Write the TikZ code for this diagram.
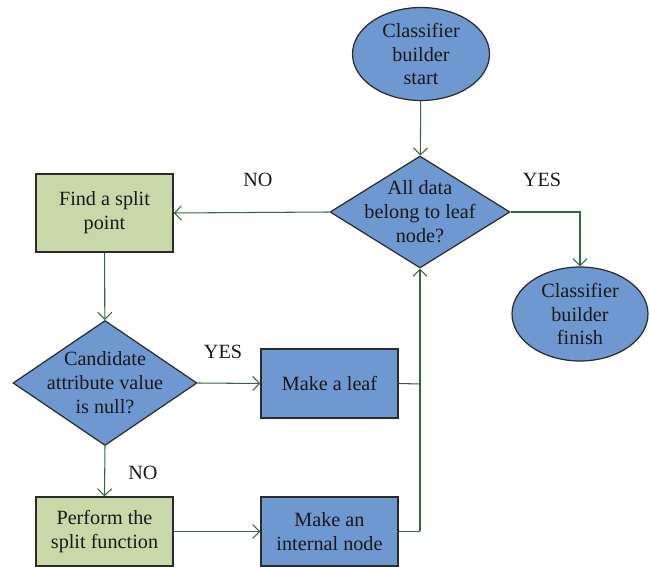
\documentclass[tikz,border=0pt]{standalone}
\usepackage{fontspec}
\setmainfont{Liberation Serif}
\usetikzlibrary{shapes.geometric,arrows.meta}
\definecolor{boxblue}{HTML}{6E98D0}
\definecolor{boxgreen}{HTML}{C9D8A9}
\definecolor{flowgreen}{HTML}{2F6A45}
\definecolor{edgegray}{HTML}{2B2B2B}
\tikzset{
  base/.style={draw=edgegray, line width=0.7pt, inner sep=0pt,
    font=\fontsize{11.5}{13.6}\selectfont, align=center, text=black!90},
  bluebox/.style={base, rectangle, fill=boxblue},
  greenbox/.style={base, rectangle, fill=boxgreen},
  terminal/.style={base, ellipse, fill=boxblue},
  decision/.style={base, diamond, fill=boxblue},
  inlabel/.style={label={[font=\fontsize{11.5}{13.6}\selectfont, align=center, text=black!90]center:#1}},
  flow/.style={draw=flowgreen, line width=0.6pt, -{Straight Barb[length=4pt,width=8pt]}},
  joint/.style={draw=flowgreen, line width=0.6pt},
  tag/.style={font=\fontsize{11.5}{13.6}\selectfont, text=black!90}
}
\begin{document}
\begin{tikzpicture}[x=0.02cm, y=-0.02cm]
\useasboundingbox (0,0) rectangle (650,567);

% terminals
\node[terminal, minimum width=2.74cm, minimum height=1.86cm,
      inlabel={Classifier\\builder\\start}] (start) at (421,54) {};
\node[terminal, minimum width=2.72cm, minimum height=1.88cm,
      inlabel={Classifier\\builder\\finish}] (finish) at (580,314) {};

% decisions
\node[decision, minimum width=3.6cm, minimum height=2.24cm,
      inlabel={All data\\belong to leaf\\node?}] (leafq) at (420,212) {};
\node[decision, minimum width=3.68cm, minimum height=2.5cm,
      inlabel={Candidate\\attribute value\\is null?}] (nullq) at (105,383) {};

% process boxes
\node[greenbox, minimum width=2.74cm, minimum height=1.56cm] (split) at (104.5,213) {Find a split\\point};
\node[bluebox, minimum width=2.74cm, minimum height=1.38cm] (leaf) at (329.5,383.5) {Make a leaf};
\node[greenbox, minimum width=2.74cm, minimum height=1.38cm] (perform) at (104.5,531.5) {Perform the\\split function};
\node[bluebox, minimum width=2.74cm, minimum height=1.38cm] (internal) at (329.5,531.5) {Make an\\internal node};

% merge point below the first decision
\coordinate (merge) at (420,384);
\coordinate (mergelow) at (420,531.5);

% connectors
\draw[flow] (start) -- (leafq);
\draw[flow] (leafq.west) -- (split.east);
\draw[flow] (leafq.east) -| (finish.north);
\draw[flow] (split) -- (nullq);
\draw[flow] (nullq.east) -- (leaf.west);
\draw[flow] (nullq.south) -- (perform.north);
\draw[flow] (perform) -- (internal);
\draw[line width=0.6pt, draw=black!70] (leaf.east) -- (merge);
\draw[joint] (internal.east) -- (mergelow);
\draw[flow] (mergelow) -- (leafq.south);

% branch labels
\node[tag] (noTop) at (258,180) {NO};
\node[tag] (yesTop) at (542,180) {YES};
\node[tag] (yesLeft) at (223,352) {YES};
\node[tag] (noLeft) at (143,473) {NO};
\end{tikzpicture}
\end{document}
